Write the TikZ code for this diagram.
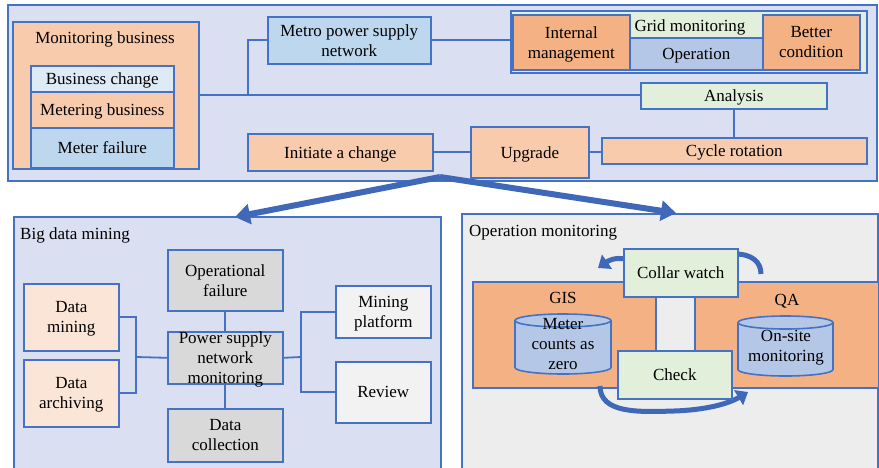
\documentclass[tikz,border=0pt]{standalone}
\usepackage{fontspec}
\setmainfont{Liberation Serif}
\usetikzlibrary{arrows.meta,calc}
\definecolor{bordblue}{HTML}{4472C4}
\definecolor{panelblue}{HTML}{DAE0F2}
\definecolor{peach}{HTML}{F8CBAD}
\definecolor{orangeb}{HTML}{F4B183}
\definecolor{lightblue}{HTML}{BDD7EE}
\definecolor{paleblue}{HTML}{DEEBF7}
\definecolor{midblue}{HTML}{B4C7E7}
\definecolor{palegreen}{HTML}{E2EFDA}
\definecolor{greya}{HTML}{D9D9D9}
\definecolor{greyb}{HTML}{F2F2F2}
\definecolor{greyc}{HTML}{EDEDED}
\definecolor{palepeach}{HTML}{FBE5D6}
\definecolor{arrowblue}{HTML}{4068B8}
\begin{document}
\begin{tikzpicture}[x=1pt,y=-1pt,
  font=\fontsize{17}{20}\selectfont,
  box/.style={draw=bordblue, line width=1.6pt, inner sep=0pt, align=center, anchor=north west, text depth=0pt},
  lbl/.style={inner sep=0pt, align=center, text depth=0pt},
  link/.style={draw=bordblue, line width=1.8pt},
  bigarrow/.style={draw=arrowblue, line width=6pt, -{Triangle[length=15pt,width=20pt]}},
  circarrow/.style={draw=arrowblue, line width=5pt, -{Triangle[length=11pt,width=17pt]}},
  circband/.style={draw=arrowblue, line width=5pt},
  cyl/.style={draw=bordblue, line width=1.6pt, fill=midblue}]
\useasboundingbox (0,0) rectangle (879,467);

% ---------- top panel ----------
\node[box, fill=panelblue, minimum width=869pt, minimum height=176pt] (top) at (7,4) {};
\node[box, fill=peach, minimum width=186pt, minimum height=147pt] (mbox) at (12,21) {};
\node[lbl] (mbt) at (105,38) {Monitoring business};
\node[box, fill=paleblue, minimum width=143pt, minimum height=26pt] (bc) at (30,65) {Business change};
\node[box, fill=peach, minimum width=143pt, minimum height=36pt] (mb) at (30,91) {Metering business};
\node[box, fill=lightblue, minimum width=143pt, minimum height=40pt] (mf) at (30,127) {Meter failure};

\node[box, fill=lightblue, minimum width=163pt, minimum height=47pt] (metro) at (267,16) {Metro power supply\\network};

\node[box, fill=palegreen, minimum width=356pt, minimum height=62pt] (grid) at (510,10) {};
\node[box, fill=orangeb, minimum width=117pt, minimum height=55pt] (im) at (512,14) {Internal\\management};
\node[lbl] (gmt) at (690,26) {Grid monitoring};
\node[box, fill=midblue, minimum width=133pt, minimum height=32pt] (op) at (629,37) {Operation};
\node[box, fill=orangeb, minimum width=97pt, minimum height=55pt] (bcond) at (762,14) {Better\\condition};

\node[box, fill=palegreen, minimum width=186pt, minimum height=26pt] (ana) at (640,82) {Analysis};
\node[box, fill=peach, minimum width=265pt, minimum height=26pt] (cyc) at (601,137) {Cycle rotation};
\node[box, fill=peach, minimum width=118pt, minimum height=51pt] (upg) at (470,126) {Upgrade};
\node[box, fill=peach, minimum width=185pt, minimum height=37pt] (init) at (247,133) {Initiate a change};

\coordinate (j1) at (248,95);
\draw[link] (mbox.east) -- (mbox.east -| ana.west);
\draw[link] (j1) |- (metro.west);
\draw[link] (metro.east) -- (metro.east -| grid.west);
\draw[link] (ana.south) -- (ana.south |- cyc.north);
\draw[link] (upg.east) -- (upg.east -| cyc.west);
\draw[link] (init.east) -- (init.east -| upg.west);

% ---------- big data mining ----------
\node[box, fill=panelblue, minimum width=427pt, minimum height=253pt] (bdm) at (13,216) {};
\node[lbl, anchor=west] (bdmt) at (20,234) {Big data mining};
\node[box, fill=greya, minimum width=115pt, minimum height=61pt] (of) at (167,249) {Operational\\failure};
\node[box, fill=greya, minimum width=115pt, minimum height=52pt] (psnm) at (167,331) {Power supply\\network\\monitoring};
\node[box, fill=greya, minimum width=115pt, minimum height=53pt] (dc) at (167,408) {Data\\collection};
\node[box, fill=palepeach, minimum width=95pt, minimum height=67pt] (dm) at (23,283) {Data\\mining};
\node[box, fill=palepeach, minimum width=95pt, minimum height=67pt] (da) at (23,359) {Data\\archiving};
\node[box, fill=greyb, minimum width=95pt, minimum height=52pt] (mp) at (335,285) {Mining\\platform};
\node[box, fill=greyb, minimum width=95pt, minimum height=61pt] (rev) at (335,361) {Review};

\coordinate (jl) at (136,357);
\coordinate (jr) at (301,357);
\draw[link] (dm.east) -| (jl) |- (da.east);
\draw[link] (jl) -- (psnm.west);
\draw[link] (mp.west) -| (jr) |- (rev.west);
\draw[link] (psnm.east) -- (jr);
\draw[link] (of.south) -- (psnm.north);
\draw[link] (psnm.south) -- (dc.north);

% ---------- operation monitoring ----------
\node[box, fill=greyc, minimum width=416pt, minimum height=256pt] (om) at (461,213) {};
\node[lbl, anchor=west] (omt) at (469,231) {Operation monitoring};
\node[box, fill=orangeb, minimum width=183pt, minimum height=106pt] (gis) at (472,281) {};
\node[box, fill=orangeb, minimum width=184pt, minimum height=106pt] (qa) at (694,281) {};
\node[lbl] (gist) at (563,298) {GIS};
\node[lbl] (qat) at (787,300) {QA};

% cylinders
\fill[midblue] (515,320.5) -- (515,367.5) arc[start angle=180,end angle=0,x radius=48,y radius=6.5] -- (611,320.5) -- cycle;
\draw[bordblue, line width=1.6pt] (515,320.5) -- (515,367.5) arc[start angle=180,end angle=0,x radius=48,y radius=6.5] -- (611,320.5);
\draw[cyl] (563,320.5) ellipse[x radius=48,y radius=6.5];
\node[lbl] (mcz) at (563,344) {Meter\\counts as\\zero};

\fill[midblue] (738,322.5) -- (738,369.5) arc[start angle=180,end angle=0,x radius=47.5,y radius=6.5] -- (833,322.5) -- cycle;
\draw[bordblue, line width=1.6pt] (738,322.5) -- (738,369.5) arc[start angle=180,end angle=0,x radius=47.5,y radius=6.5] -- (833,322.5);
\draw[cyl] (785.5,322.5) ellipse[x radius=47.5,y radius=6.5];
\node[lbl] (osm) at (786,346) {On-site\\monitoring};

% circular arrows
\draw[circarrow] (626,259) .. controls (614,257) and (608,261) .. (598,268);
\draw[circband] (735,254) .. controls (752,254) and (761,262) .. (761,274);
\draw[circarrow] (600,386) .. controls (600,414) and (640,412) .. (674,411) .. controls (705,410) and (728,404) .. (748,392);

\node[box, fill=palegreen, minimum width=114pt, minimum height=48pt] (cw) at (623,248) {Collar watch};
\node[box, fill=palegreen, minimum width=114pt, minimum height=48pt] (ck) at (617,350) {Check};

% big arrows
\coordinate (src) at (440,177);
\coordinate (tipL) at (235,217);
\coordinate (tipR) at (676,213);
\draw[bigarrow] (src) -- (tipL);
\draw[bigarrow] (src) -- (tipR);
\end{tikzpicture}
\end{document}
